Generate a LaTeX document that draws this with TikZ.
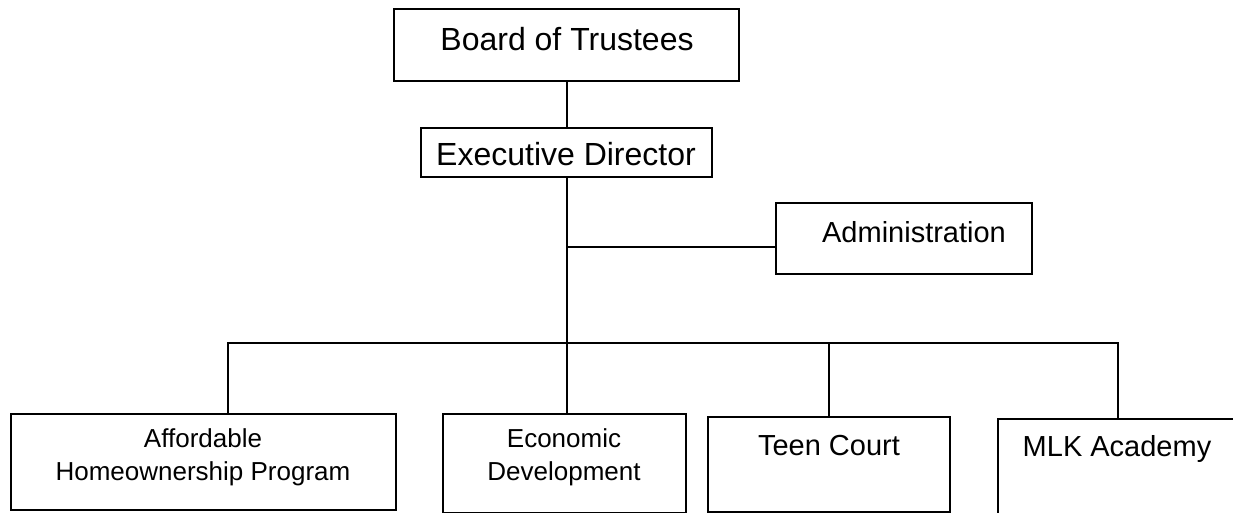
\documentclass[tikz,border=0pt]{standalone}
\usepackage{fontspec}
\setmainfont{Liberation Sans}
\begin{document}
\begin{tikzpicture}[x=1pt,y=-1pt,
  box/.style={draw, line width=1.6pt, inner sep=0pt, anchor=north west},
  conn/.style={line width=1.6pt},
  lbl/.style={anchor=base, inner sep=0pt},
  big/.style={font=\fontsize{32}{38}\selectfont},
  mid/.style={font=\fontsize{29}{35}\selectfont},
  small/.style={font=\fontsize{26}{33}\selectfont, align=center}]
\useasboundingbox (0,0) rectangle (1233,513);
\clip (0,0) rectangle (1233,513);

% boxes
\node[box, minimum width=345pt, minimum height=72pt] (board) at (393,8) {};
\node[box, minimum width=291pt, minimum height=49pt] (exec) at (420,127) {};
\node[box, minimum width=256pt, minimum height=71pt] (admin) at (775,202) {};
\node[box, minimum width=385pt, minimum height=96pt] (afford) at (10,413) {};
\node[box, minimum width=243pt, minimum height=99pt] (econ) at (442,413) {};
\node[box, minimum width=242pt, minimum height=95pt] (teen) at (707,416) {};
\node[box, minimum width=280pt, minimum height=95pt] (mlk) at (997,418) {};

% labels
\node[lbl, big] (tboard) at (567,51) {Board of Trustees};
\node[lbl, big] (texec) at (566,166) {Executive Director};
\node[lbl, mid] (tadmin) at (914,242) {Administration};
\node[lbl, small, anchor=north] (tafford) at (203,428) {Affordable\\Homeownership Program};
\node[lbl, small, anchor=north] (tecon) at (564,428) {Economic\\Development};
\node[lbl, mid] (tteen) at (829,455) {Teen Court};
\node[lbl, mid] (tmlk) at (1117,456) {MLK Academy};

% connectors
\coordinate (ajoin) at (567,247);
\coordinate (busL) at (228,343);
\coordinate (busR) at (1118,343);
\draw[conn] (board.south -| ajoin) -- (exec.north -| ajoin);
\draw[conn] (exec.south -| ajoin) -- (econ.north -| ajoin);
\draw[conn] (ajoin) -- (ajoin -| admin.west);
\draw[conn] (afford.north -| busL) -- (busL) -- (busR) -- (busR |- mlk.north);
\draw[conn] (teen.north) -- (teen.north |- busL);
\end{tikzpicture}
\end{document}
